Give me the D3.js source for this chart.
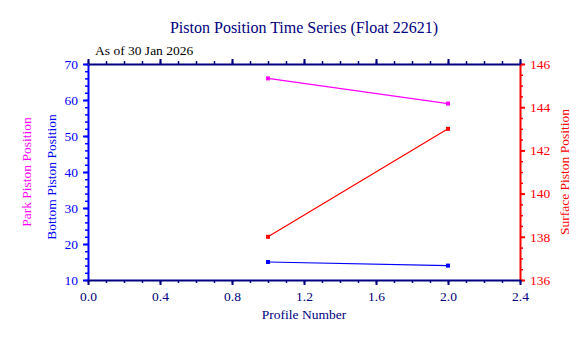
<!DOCTYPE html>
<html><head><meta charset="utf-8">
<script src="https://cdn.jsdelivr.net/npm/d3@7"></script>
<style>body{margin:0;background:#fff}svg{display:block}</style>
</head><body>
<script>
const profiles = [1, 2];
const parkPiston = [66, 59];
const bottomPiston = [15, 14];
const surfacePiston = [138, 143];
const xTicks = [0, 0.4, 0.8, 1.2, 1.6, 2.0, 2.4];
const leftTicks = [10, 20, 30, 40, 50, 60, 70];
const rightTicks = [136, 138, 140, 142, 144, 146];

const W = 588, H = 338;
const m = {l: 88, r: 520, t: 64, b: 280};
const navy = "#000080", blue = "#0000ff", red = "#ff0000", magenta = "#ff00ff";
const FF = "'Liberation Serif', 'Times New Roman', serif";

const svg = d3.select("body").append("svg").attr("width", W).attr("height", H);
const x = d3.scaleLinear().domain([0, 2.4]).range([m.l, m.r]);
const yL = d3.scaleLinear().domain([10, 70]).range([m.b, m.t]);
const yR = d3.scaleLinear().domain([136, 146]).range([m.b, m.t]);

function styleAxis(g, color, fs) {
  g.attr("font-family", null);
  g.select(".domain").attr("stroke", color).attr("stroke-width", 2);
  g.selectAll(".tick line").attr("stroke", color).attr("stroke-width", 2);
  g.selectAll(".tick text").attr("fill", color).style("font-family", FF).style("font-size", fs + "px");
}
function minor(g, color) {
  g.select(".domain").remove();
  g.selectAll(".tick line").attr("stroke", color).attr("stroke-width", 1.5);
  g.selectAll("text").remove();
}

// left axis
const minL = d3.range(10, 70.01, 2);
svg.append("g").attr("transform", `translate(${m.l},0)`)
  .call(d3.axisLeft(yL).tickValues(minL).tickSize(3).tickFormat("")).call(g => minor(g, blue));
svg.append("g").attr("transform", `translate(${m.l},0)`)
  .call(d3.axisLeft(yL).tickValues(leftTicks).tickSize(5).tickPadding(5).tickSizeOuter(0).tickFormat(d3.format("d")))
  .call(g => styleAxis(g, blue, 13.5));

// right axis
const minR = d3.range(136, 146.01, 0.5);
svg.append("g").attr("transform", `translate(${m.r},0)`)
  .call(d3.axisRight(yR).tickValues(minR).tickSize(3).tickFormat("")).call(g => minor(g, red));
svg.append("g").attr("transform", `translate(${m.r},0)`)
  .call(d3.axisRight(yR).tickValues(rightTicks).tickSize(5).tickPadding(5).tickSizeOuter(0).tickFormat(d3.format("d")))
  .call(g => styleAxis(g, red, 13.5));

// bottom axis
const minX = d3.range(0, 2.401, 0.1);
svg.append("g").attr("transform", `translate(0,${m.b})`)
  .call(d3.axisBottom(x).tickValues(minX).tickSize(3).tickFormat("")).call(g => minor(g, navy));
svg.append("g").attr("transform", `translate(0,${m.b})`)
  .call(d3.axisBottom(x).tickValues(xTicks).tickSize(5).tickPadding(6).tickSizeOuter(0).tickFormat(d3.format(".1f")))
  .call(g => styleAxis(g, navy, 13.5));
// top axis
svg.append("g").attr("transform", `translate(0,${m.t})`)
  .call(d3.axisTop(x).tickValues(minX).tickSize(3).tickFormat("")).call(g => minor(g, navy));
svg.append("g").attr("transform", `translate(0,${m.t})`)
  .call(d3.axisTop(x).tickValues(xTicks).tickSize(5).tickSizeOuter(0).tickFormat(""))
  .call(g => styleAxis(g, navy, 13));

// series
function series(vals, y, color) {
  const pts = profiles.map((p, i) => [x(p), y(vals[i])]);
  svg.append("path").attr("d", d3.line()(pts)).attr("fill", "none").attr("stroke", color).attr("stroke-width", 1.2);
  svg.selectAll(null).data(pts).enter().append("rect")
    .attr("x", d => d[0] - 2).attr("y", d => d[1] - 2).attr("width", 4).attr("height", 4).attr("fill", color);
}
series(parkPiston, yL, magenta);
series(bottomPiston, yL, blue);
series(surfacePiston, yR, red);

// texts
function txt(s, fs, color) {
  return svg.append("text").style("font-family", FF).style("font-size", fs + "px").attr("fill", color).text(s);
}
txt("Piston Position Time Series (Float 22621)", 16, navy).attr("x", 304).attr("y", 33).attr("text-anchor", "middle");
txt("As of 30 Jan 2026", 13.5, "#000").attr("x", 95).attr("y", 55);
txt("Profile Number", 13.5, navy).attr("x", 304).attr("y", 319).attr("text-anchor", "middle");
txt("Bottom Piston Position", 13.5, blue).attr("transform", "translate(56,177) rotate(-90)").attr("text-anchor", "middle");
txt("Park Piston Position", 13.5, magenta).attr("transform", "translate(31,172) rotate(-90)").attr("text-anchor", "middle");
txt("Surface Piston Position", 13.5, red).attr("transform", "translate(569,172) rotate(-90)").attr("text-anchor", "middle");
</script>
</body></html>
